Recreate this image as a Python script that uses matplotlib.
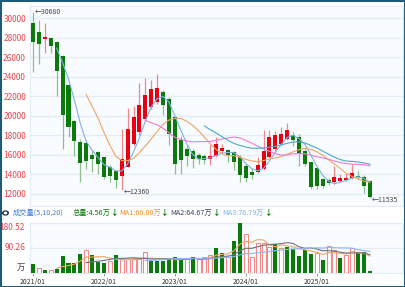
import matplotlib.pyplot as plt
from matplotlib.patches import Rectangle
import pandas as pd

plt.rcParams['font.family'] = ['Noto Sans CJK SC', 'DejaVu Sans']

# monthly bars 2021/01 .. 2025/10
months = pd.period_range('2021-01', '2025-10', freq='M')
opens = [29550, 28560, 27900, 28000, 27590, 26120, 23200, 19500, 17300, 17190,
         16000, 16260, 15740, 14790, 14300, 13860, 14720, 17125, 18320, 19700,
         20900, 21410, 22440, 21760, 19870, 17465, 16610, 16430, 16020, 15920,
         15560, 15920, 16360, 16500, 16260, 15820, 14890, 14200, 14200, 14550,
         15750, 16610, 17125, 17640, 18050, 17780, 16430, 15230, 14600, 13520,
         13420, 13170, 13350, 13420, 13620, 13860, 13760, 13340]
highs = [30680, 29825, 29485, 28050, 27700, 26200, 23300, 19600, 17600, 17500,
         16500, 16400, 15800, 14900, 14400, 18600, 20800, 21000, 23340, 23920,
         23640, 24330, 22600, 21900, 20000, 17900, 17000, 16600, 16200, 16100,
         17000, 17800, 17100, 16600, 16400, 16000, 15000, 14600, 15750, 18570,
         18500, 18400, 18830, 19250, 18300, 18080, 16600, 15300, 14700, 13600,
         13600, 14890, 14000, 14100, 15070, 14300, 13900, 13400]
lows = [24500, 25260, 26400, 26460, 22030, 16610, 17800, 15830, 13250, 14550,
        14200, 14060, 13520, 13170, 12600, 12360, 14720, 16900, 18000, 19500,
        20700, 21200, 20040, 16950, 14040, 14000, 14890, 14640, 15000, 15000,
        14900, 15800, 16200, 15290, 14440, 13240, 13170, 13500, 14100, 14400,
        15600, 16400, 17000, 17500, 16900, 14890, 14800, 12450, 12450, 12600,
        12900, 13000, 13200, 13300, 13500, 13500, 12040, 11535]
closes = [27530, 27350, 28040, 27180, 24600, 20100, 18840, 17390, 15130, 15400,
          15600, 15060, 13760, 13860, 13420, 15580, 18670, 19870, 21070, 22100,
          22790, 22890, 21070, 18150, 15070, 15500, 15920, 15580, 15580, 15480,
          15900, 17125, 16710, 15990, 15300, 13960, 13620, 13950, 14990, 16430,
          17810, 17980, 18160, 18500, 17540, 16100, 15070, 12730, 12800, 12830,
          13070, 13690, 13580, 13620, 14100, 13690, 12830, 11700]
# volume in 万
volumes = [30, 17, 11, 8, 14, 60, 36, 34, 68, 82,
           62, 40, 36, 42, 65, 48, 48, 48, 48, 75,
           42, 42, 42, 48, 58, 45, 48, 55, 50, 58,
           62, 88, 72, 58, 115, 180.52, 138, 55, 107, 107,
           93, 102, 90, 93, 86, 61, 83, 67.1, 70, 45,
           96, 82, 53.7, 62, 88, 70, 75.44, 4.56]
vol_up = [0, 1, 0, 1, 0, 0, 0, 0, 0, 1,
          0, 0, 0, 1, 0, 1, 1, 1, 1, 1,
          0, 0, 0, 0, 0, 0, 1, 0, 1, 1,
          1, 0, 0, 1, 0, 0, 1, 1, 1, 1,
          1, 0, 1, 0, 0, 0, 0, 0, 1, 0,
          1, 1, 0, 1, 1, 0, 0, 0]
price_ticks = list(range(12000, 30001, 2000))
vol_ticks = [90.26, 180.52]
year_idx = [0, 12, 24, 36, 48]

RED = '#e60012'
GREEN = '#0b7a0b'
W, H = 405, 287


def box(l, t, r, b):
    return [l / W, 1 - b / H, (r - l) / W, (b - t) / H]


fig = plt.figure(figsize=(W / 100, H / 100), dpi=100)
fig.patches.append(Rectangle((0, 0), 1, 1, transform=fig.transFigure,
                             fill=False, edgecolor='#1d5b79', lw=2.2))

ax = fig.add_axes(box(29.5, 6, 403, 206))
axv = fig.add_axes(box(29.5, 222.5, 403, 272.7), sharex=ax)

for a in (ax, axv):
    a.set_facecolor('#f8fbff')
    for s in a.spines.values():
        s.set_color('#e3ebf5')
        s.set_linewidth(0.8)

# candles
x = list(range(len(months)))
for i in x:
    o, h, l, c = opens[i], highs[i], lows[i], closes[i]
    up = c >= o
    ax.vlines(i, l, h, color='#f08a8a' if up else '#8fbf8f', lw=0.9, zorder=2)
    ax.bar(i, max(abs(c - o), 70), bottom=min(o, c), width=0.68,
           color=RED if up else GREEN, zorder=3)

s = pd.Series(closes)
ma_styles = [(5, '#7fb2e6'), (10, '#f4a460'), (20, '#f07ad8'), (30, '#4fa9c9')]
for n, col in ma_styles:
    ax.plot(x, s.rolling(n).mean(), color=col, lw=0.8, zorder=4)

ax.set_ylim(10742, 31262)
ax.set_xlim(-0.6, 62.6)
ax.set_yticks(price_ticks)
ax.yaxis.grid(True, color='#e3ebf5', lw=0.9)
ax.set_axisbelow(True)
ax.tick_params(axis='y', length=0, pad=2.5, labelsize=6, labelcolor='#e8474f')
ax.tick_params(axis='x', length=0, labelbottom=False)

imax = highs.index(max(highs))
for idx, val in [(imax, highs[imax]), (15, 12360), (len(x) - 1, lows[-1])]:
    ax.annotate('←' + str(val), xy=(idx, val), xytext=(1.5, -1 if idx else 0),
                textcoords='offset points', ha='left', va='center',
                fontsize=5, color='#444444')

# volume
for i in x:
    if vol_up[i]:
        axv.bar(i, volumes[i], width=0.68, facecolor='white',
                edgecolor='#f08a8a', lw=0.8, zorder=3)
    else:
        axv.bar(i, volumes[i], width=0.68, color=GREEN, zorder=3)
v = pd.Series(volumes)
for n, col in [(5, '#f4a460'), (10, '#6b7280'), (20, '#8fb6ee')]:
    axv.plot(x, v.rolling(n).mean(), color=col, lw=0.8, zorder=4)

axv.set_ylim(0, 180.52)
axv.set_yticks([])
for t in vol_ticks:
    axv.axhline(t, color='#e3ebf5', lw=0.9, zorder=0)
axv.text(-0.012, 1.0, '180.52', transform=axv.transAxes, ha='right', va='top',
         fontsize=6, color='#e8474f')
axv.text(-0.012, 90.26 / 180.52, '90.26', transform=axv.transAxes, ha='right',
         va='center', fontsize=6, color='#e8474f')
axv.text(-0.012, 0.02, '万', transform=axv.transAxes, ha='right', va='bottom',
         fontsize=6, color='#444444')

axv.set_xticks(year_idx)
axv.set_xticklabels([str(months[i].year) + '/01' for i in year_idx])
axv.tick_params(axis='x', length=2, width=0.6, color='#888888', pad=1.5,
                labelsize=5, labelcolor='#333333')

# volume header
hy = 1 - 213 / H
fig.patches.append(plt.Circle((5.5 / W, hy), 2.8 / W, transform=fig.transFigure,
                              color='#27384f'))
fig.patches.append(plt.Circle((5.5 / W, hy), 1.0 / W, transform=fig.transFigure,
                              color='white'))
fig.text(13 / W, hy, '成交量(5,10,20)', fontsize=5.2, color='#3f7fd8', va='center')
header = [(72.7, '总量:4.56万', GREEN), (119, 'MA1:60.00万', '#f0922e'),
          (170.7, 'MA2:64.67万', '#3a4760'), (222.7, 'MA3:76.79万', '#7fb2ee')]
fig.canvas.draw()
for px, txt, col in header:
    t = fig.text(px / W, hy, txt, fontsize=5.2, color=col, va='center')
    bb = t.get_window_extent(renderer=fig.canvas.get_renderer())
    fig.text((bb.x1 + 0.5) / W, hy, '↓', fontsize=5.5, color=GREEN,
             va='center', fontweight='bold')

fig.savefig('out.png', dpi=100)
